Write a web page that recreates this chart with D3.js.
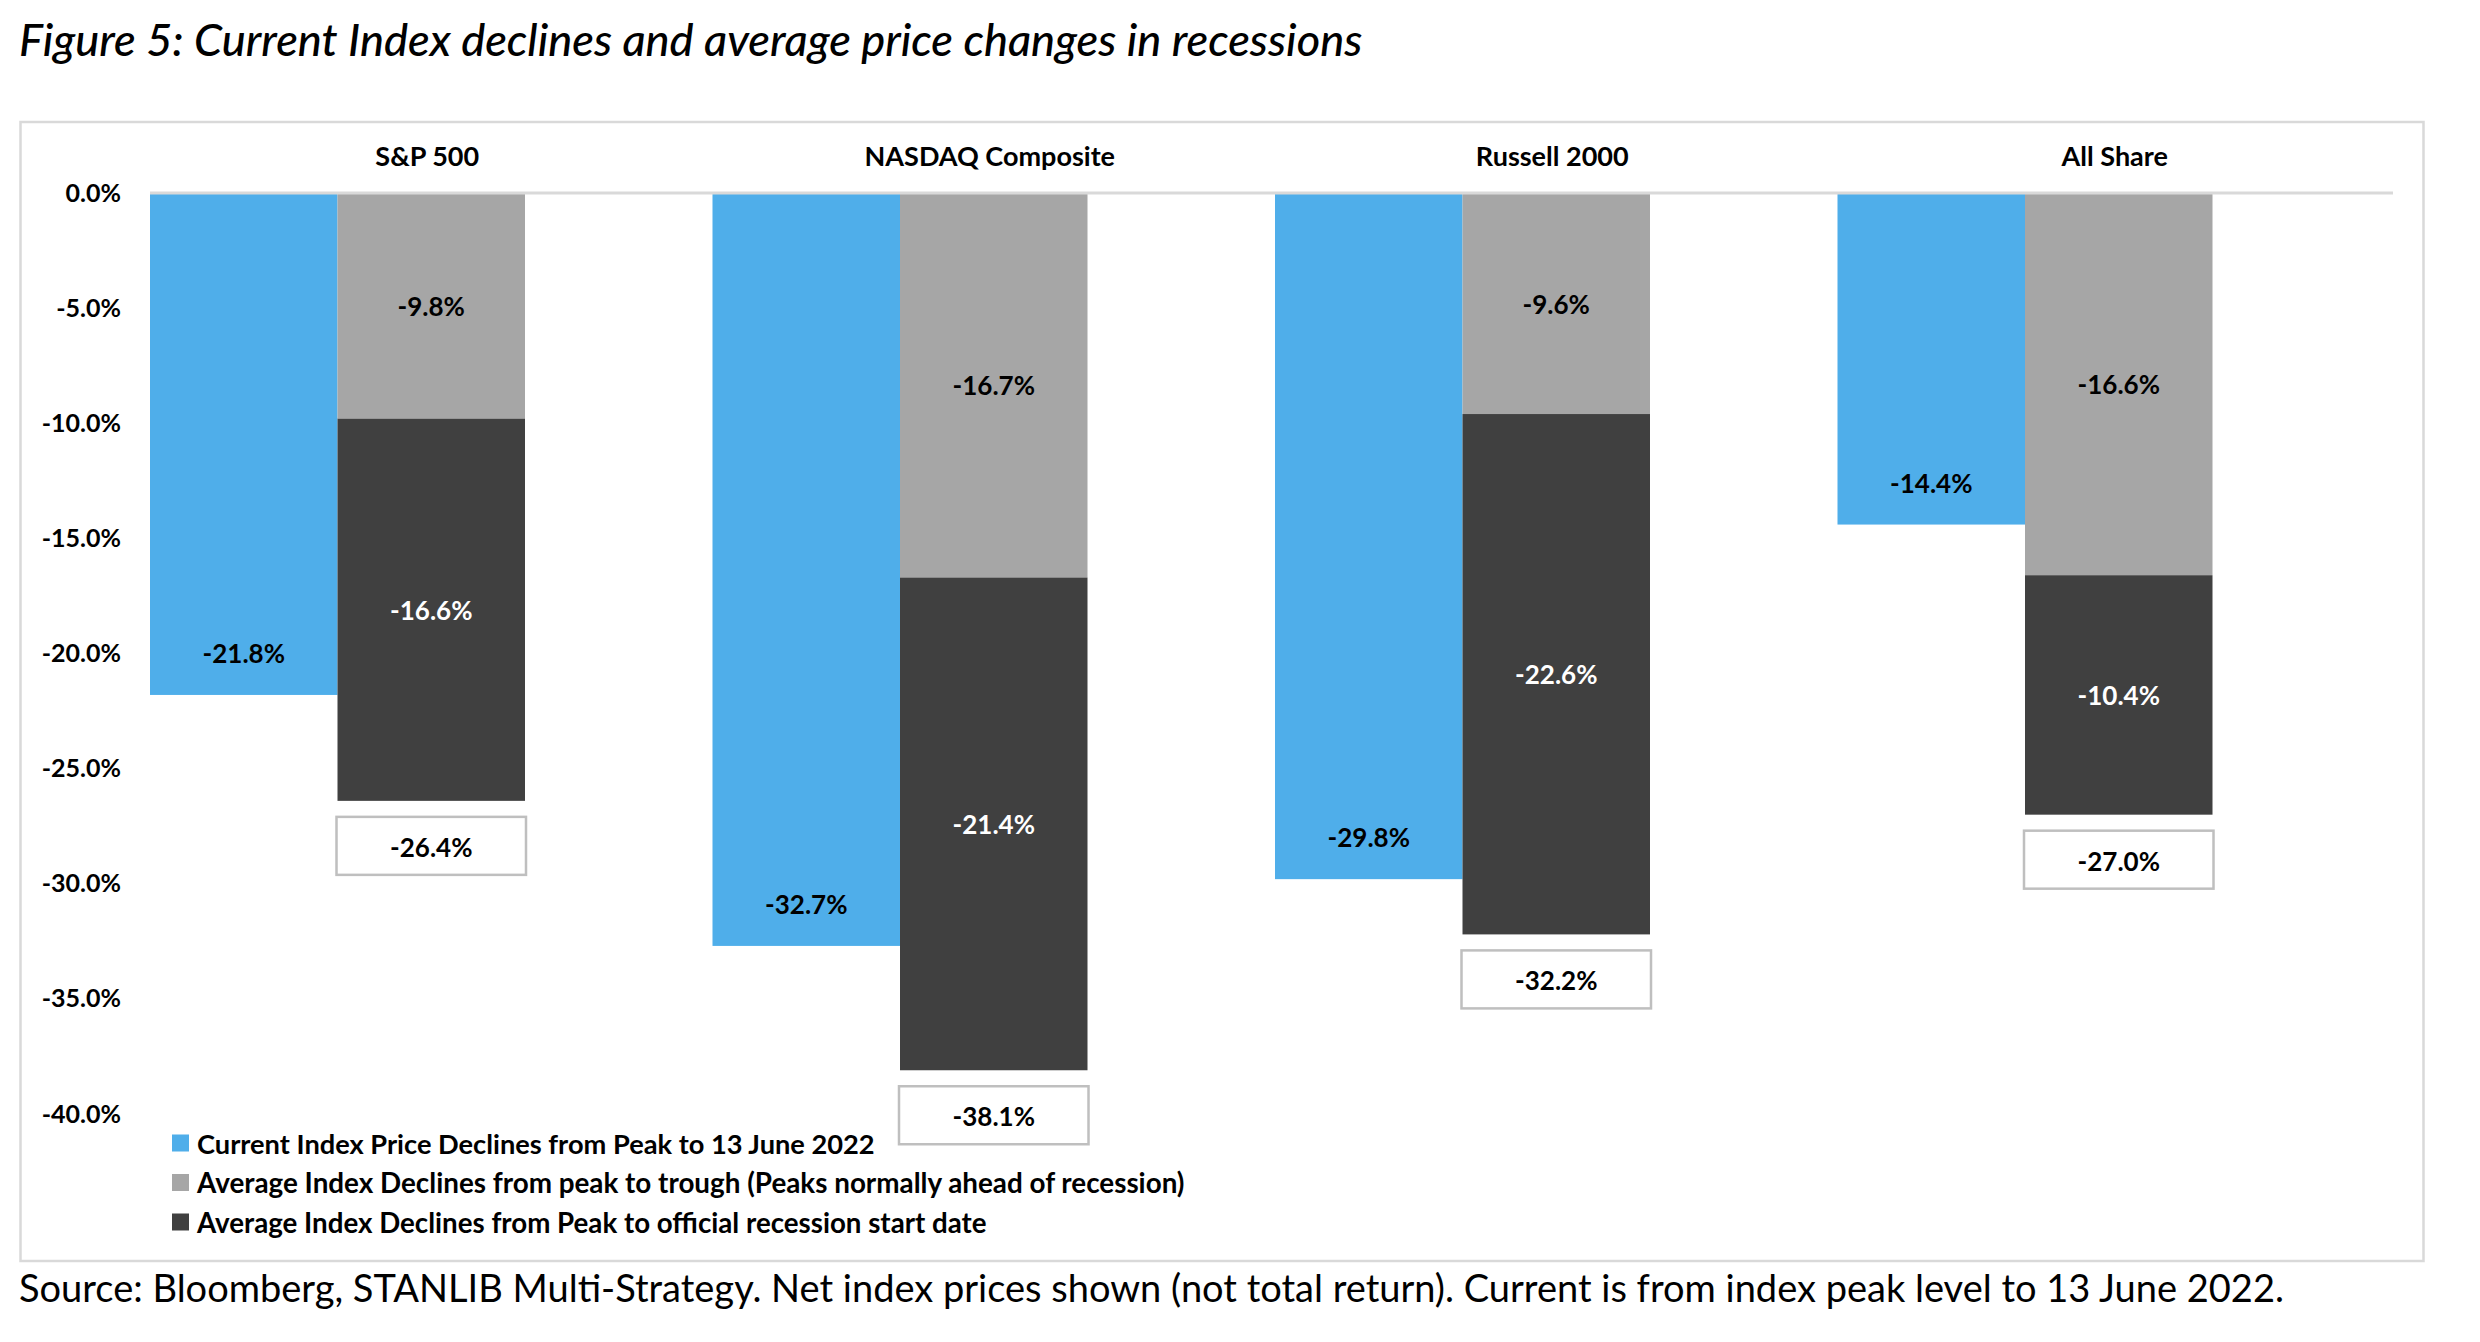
<!DOCTYPE html>
<html>
<head>
<meta charset="utf-8">
<script src="https://cdn.jsdelivr.net/npm/d3@7"></script>
<style>
  body { margin: 0; background: #fff; }
  text { font-family: Lato, "Open Sans", sans-serif; }
</style>
</head>
<body>
<script>
// values
const categories = ["S&P 500", "NASDAQ Composite", "Russell 2000", "All Share"];
const currentDecline = [-21.8, -32.7, -29.8, -14.4];
const peakToTrough = [-9.8, -16.7, -9.6, -16.6];
const peakToRecession = [-16.6, -21.4, -22.6, -10.4];
const yTicks = [0, -5, -10, -15, -20, -25, -30, -35, -40];
const seriesNames = [
  "Current Index Price Declines from Peak to 13 June 2022",
  "Average Index Declines from peak to trough (Peaks normally ahead of recession)",
  "Average Index Declines from Peak to official recession start date"
];
const seriesColors = ["#4faeea", "#a6a6a6", "#404040"];

const titleText = "Figure 5: Current Index declines and average price changes in recessions";
const sourceText = "Source: Bloomberg, STANLIB Multi-Strategy. Net index prices shown (not total return). Current is from index peak level to 13 June 2022.";

const W = 2480, H = 1342;

const svg = d3.select("body").append("svg")
  .attr("width", W).attr("height", H)
  .attr("viewBox", `0 0 ${W} ${H}`);

svg.append("rect").attr("width", W).attr("height", H).attr("fill", "#fff");

// scale font-size so the text spans the given width
const fitWidth = (sel, target) => {
  const w = sel.node().getComputedTextLength();
  const fs = parseFloat(sel.attr("font-size"));
  sel.attr("font-size", fs * target / w);
  return fs * target / w;
};

// title
const title = svg.append("text")
  .attr("x", 19).attr("y", 56)
  .attr("font-size", 40).attr("font-style", "italic").attr("font-weight", 500)
  .attr("fill", "#000")
  .text(titleText);
fitWidth(title, 1344);

// chart frame
svg.append("rect")
  .attr("x", 20.5).attr("y", 122).attr("width", 2403).attr("height", 1139)
  .attr("fill", "none").attr("stroke", "#d9d9d9").attr("stroke-width", 2.5);

const x = d3.scaleBand().domain(categories).range([150, 2400]).padding(0);
const slot = d3.scaleBand().domain(["current", "average", "spare"]).range([0, x.bandwidth()]);
const y = d3.scaleLinear().domain([0, -40]).range([193, 1114]);

const rows = categories.map((c, i) => ({
  cat: c,
  current: currentDecline[i],
  trough: peakToTrough[i],
  recession: peakToRecession[i]
}));

const stack = d3.stack().keys(["trough", "recession"]).offset(d3.stackOffsetDiverging);
const layers = stack(rows);

const fmt = (v) => v.toFixed(1) + "%";
const labelSize = 26;

// y axis
const yAxis = svg.append("g")
  .attr("transform", "translate(121,0)")
  .call(d3.axisLeft(y).tickValues(yTicks).tickFormat(fmt).tickSize(0).tickPadding(0));
yAxis.select(".domain").remove();
yAxis.selectAll("text")
  .attr("font-family", "Lato, sans-serif")
  .attr("font-size", 25).attr("font-weight", 700).attr("fill", "#000");

// current bars
svg.append("g").selectAll("rect")
  .data(rows)
  .join("rect")
  .attr("x", (d) => x(d.cat) + slot("current"))
  .attr("y", y(0))
  .attr("width", slot.bandwidth())
  .attr("height", (d) => y(d.current) - y(0))
  .attr("fill", seriesColors[0]);

// stacked averages
layers.forEach((layer, li) => {
  svg.append("g").selectAll("rect")
    .data(layer)
    .join("rect")
    .attr("x", (d) => x(d.data.cat) + slot("average"))
    .attr("y", (d) => y(d[1]))
    .attr("width", slot.bandwidth())
    .attr("height", (d) => y(d[0]) - y(d[1]))
    .attr("fill", seriesColors[li + 1]);

  svg.append("g").selectAll("text")
    .data(layer)
    .join("text")
    .attr("x", (d) => x(d.data.cat) + slot("average") + slot.bandwidth() / 2)
    .attr("y", (d) => (y(d[0]) + y(d[1])) / 2)
    .attr("text-anchor", "middle").attr("dominant-baseline", "central")
    .attr("font-size", labelSize).attr("font-weight", 700)
    .attr("fill", li == 0 ? "#000" : "#fff")
    .text((d) => fmt(d.data[layer.key]));
});

// zero line
svg.append("line")
  .attr("x1", 150).attr("x2", 2393)
  .attr("y1", y(0)).attr("y2", y(0))
  .attr("stroke", "#d9d9d9").attr("stroke-width", 3);

// labels on current bars, near the bar end
svg.append("g").selectAll("text")
  .data(rows)
  .join("text")
  .attr("x", (d) => x(d.cat) + slot("current") + slot.bandwidth() / 2)
  .attr("y", (d) => y(d.current) - 42)
  .attr("text-anchor", "middle").attr("dominant-baseline", "central")
  .attr("font-size", labelSize).attr("font-weight", 700).attr("fill", "#000")
  .text((d) => fmt(d.current));

// total boxes below the stacks
const totals = svg.append("g").selectAll("g")
  .data(rows)
  .join("g")
  .attr("transform", (d) => `translate(${x(d.cat) + slot("average")},${y(d.trough + d.recession) + 16})`);

totals.append("rect")
  .attr("x", -1).attr("y", 0)
  .attr("width", slot.bandwidth() + 2).attr("height", 58)
  .attr("fill", "#fff").attr("stroke", "#bfbfbf").attr("stroke-width", 2.5);

totals.append("text")
  .attr("x", slot.bandwidth() / 2).attr("y", 30)
  .attr("text-anchor", "middle").attr("dominant-baseline", "central")
  .attr("font-size", labelSize).attr("font-weight", 700).attr("fill", "#000")
  .text((d) => fmt(d.trough + d.recession));

// category labels along the top
svg.append("g").selectAll("text")
  .data(categories)
  .join("text")
  .attr("x", (d) => x(d) + x.bandwidth() / 2 - 4)
  .attr("y", 155)
  .attr("text-anchor", "middle").attr("dominant-baseline", "central")
  .attr("font-size", 27).attr("font-weight", 700).attr("fill", "#000")
  .text((d) => d);

// legend
const legendWidths = [678, 988, 790];
const legend = svg.append("g").attr("transform", "translate(172,1143)");
const legendRows = legend.selectAll("g")
  .data(seriesNames)
  .join("g")
  .attr("transform", (d, i) => `translate(0,${i * 39.5})`);

legendRows.append("rect")
  .attr("x", 0).attr("y", -8.5).attr("width", 17).attr("height", 17)
  .attr("fill", (d, i) => seriesColors[i]);

legendRows.append("text")
  .attr("x", 25).attr("y", 0)
  .attr("dominant-baseline", "central")
  .attr("font-size", 24).attr("font-weight", 700).attr("fill", "#000")
  .text((d) => d)
  .each(function (d, i) { fitWidth(d3.select(this), legendWidths[i]); });

// source note
const source = svg.append("text")
  .attr("x", 19).attr("y", 1302)
  .attr("font-size", 32).attr("fill", "#000")
  .text(sourceText);
fitWidth(source, 2266);
</script>
</body>
</html>
